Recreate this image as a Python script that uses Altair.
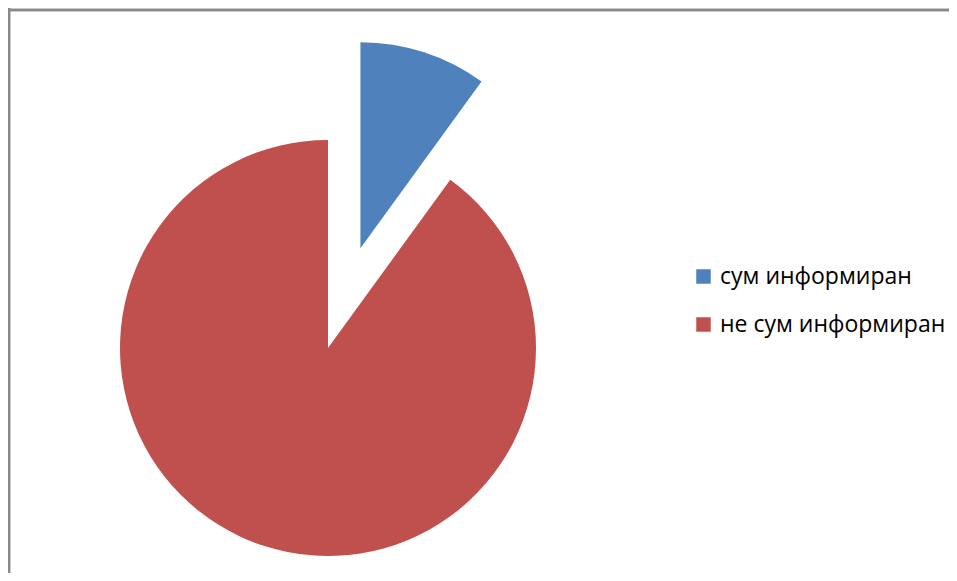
import math
import altair as alt
import pandas as pd

categories = ["сум информиран", "не сум информиран"]
values = [10, 90]
colors = ["#4F81BD", "#C0504D"]

df = pd.DataFrame({"category": categories, "value": values, "order": list(range(len(values)))})
total = sum(values)

W, H = 941, 565
CX, CY, R = 320, 340, 208
EXPLODE = 105

base = alt.Chart(df).transform_window(
    cum="sum(value)", sort=[alt.SortField("order")], frame=[None, 0]
).transform_calculate(start="datum.cum - datum.value")

theta = alt.Theta("start:Q", scale=alt.Scale(domain=[0, total], range=[0, 2 * math.pi]))
color = alt.Color(
    "category:N",
    scale=alt.Scale(domain=categories, range=colors),
    sort=categories,
    legend=alt.Legend(
        title=None,
        orient="none",
        legendX=684,
        legendY=257,
        symbolType="square",
        symbolSize=210,
        symbolStrokeWidth=0,
        labelFont="Open Sans",
        labelFontSize=23,
        labelColor="#000000",
        labelOffset=5,
        rowPadding=24,
        labelLimit=400,
    ),
)

# mid-angle of the exploded (first) slice
mid = (values[0] / 2) / total * 2 * math.pi
dx = EXPLODE * math.sin(mid)
dy = -EXPLODE * math.cos(mid)

red = base.transform_filter(alt.datum.order == 1).mark_arc(
    radius=R, x=CX, y=CY
).encode(theta=theta, theta2="cum:Q", color=color)

blue = base.transform_filter(alt.datum.order == 0).mark_arc(
    radius=R - 2, x=CX, y=CY, xOffset=dx, yOffset=dy
).encode(theta=theta, theta2="cum:Q", color=color)

frame_top = alt.Chart(df).mark_rule(color="#888888", strokeWidth=2.5).encode(
    x=alt.value(0), x2=alt.value(W), y=alt.value(2)
)
frame_left = alt.Chart(df).mark_rule(color="#888888", strokeWidth=2.5).encode(
    x=alt.value(1), y=alt.value(0), y2=alt.value(H)
)

chart = alt.layer(frame_top, frame_left, red, blue).properties(
    width=W, height=H, autosize=alt.AutoSizeParams(type="none"), padding=0
).configure_view(strokeWidth=0)

chart.save("out.html", embed_options={"renderer": "svg", "actions": False})
